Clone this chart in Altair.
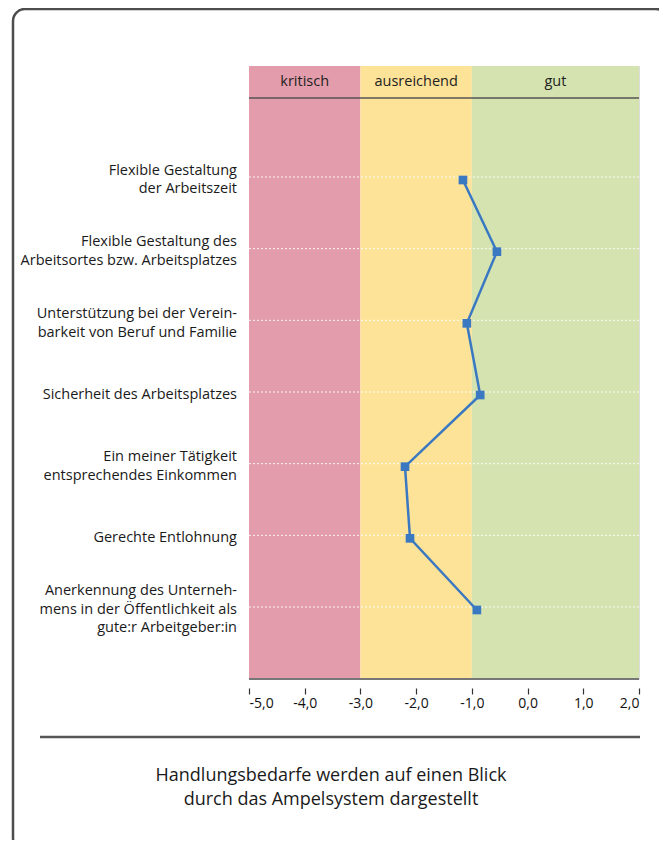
import altair as alt
import pandas as pd

# ---------------- data ----------------
labels = [
    "Flexible Gestaltung\nder Arbeitszeit",
    "Flexible Gestaltung des\nArbeitsortes bzw. Arbeitsplatzes",
    "Unterstützung bei der Verein-\nbarkeit von Beruf und Familie",
    "Sicherheit des Arbeitsplatzes",
    "Ein meiner Tätigkeit\nentsprechendes Einkommen",
    "Gerechte Entlohnung",
    "Anerkennung des Unterneh-\nmens in der Öffentlichkeit als\ngute:r Arbeitgeber:in",
]
values = [-1.16, -0.55, -1.09, -0.85, -2.20, -2.11, -0.91]
rows = [0, 1, 2, 3, 4, 5, 6]

zones = ["kritisch", "ausreichend", "gut"]
zone_start = [-5, -3, -1]
zone_end = [-3, -1, 2]
zone_colors = ["#E29CAB", "#FDE398", "#D4E3AF"]

ticks = [-5, -4, -3, -2, -1, 0, 1, 2]
footer = ["Handlungsbedarfe werden auf einen Blick", "durch das Ampelsystem dargestellt"]

# ---------------- layout ----------------
W, H = 390, 613
Y_DOMAIN = [-1.591, 6.963]
HEADER_LINE = -1.144
HEADER_TEXT = -1.367
FONT = "Open Sans"
LINE_H = 18.5
PX_PER_UNIT = H / (Y_DOMAIN[1] - Y_DOMAIN[0])

df = pd.DataFrame({"label": labels, "value": values, "row": rows})
zdf = pd.DataFrame({"zone": zones, "start": zone_start, "end": zone_end,
                    "mid": [(a + b) / 2 for a, b in zip(zone_start, zone_end)],
                    "hy": [HEADER_TEXT] * 3, "ly": [HEADER_LINE] * 3})
fdf = pd.DataFrame({"text": footer, "line": [0, 1]})

xscale = alt.Scale(domain=[-5, 2], nice=False, zero=False)
yscale = alt.Scale(domain=Y_DOMAIN, reverse=True, nice=False, zero=False)

xaxis = alt.Axis(values=ticks,
                 labelExpr="replace(replace(format(datum.value, '.1f'), '.', ','), '\u2212', '-')",
                 domain=False, grid=False, tickSize=6, offset=9, tickColor="#333333",
                 tickWidth=1.2, labelFontSize=14, labelColor="#111111", labelFont=FONT,
                 labelPadding=2, title=None)

frame = alt.Chart(fdf.head(1)).mark_rect(
    fillOpacity=0, stroke="#4d4d4d", strokeWidth=2.5, cornerRadius=12
).encode(x=alt.value(-236), x2=alt.value(419), y=alt.value(-57), y2=alt.value(784))

bands = alt.Chart(zdf).mark_rect().encode(
    x=alt.X("start:Q", scale=xscale, axis=xaxis),
    x2="end:Q",
    y=alt.value(0), y2=alt.value(H),
    color=alt.Color("zone:N", scale=alt.Scale(domain=zones, range=zone_colors), legend=None),
)

header_text = alt.Chart(zdf).mark_text(fontSize=14.5, font=FONT, color="#222222").encode(
    x=alt.X("mid:Q", scale=xscale),
    y=alt.Y("hy:Q", scale=yscale, axis=None),
    text="zone:N",
)

header_line = alt.Chart(zdf.head(1)).mark_rule(color="#555555", strokeWidth=1.5).encode(
    x=alt.value(0), x2=alt.value(W),
    y=alt.Y("ly:Q", scale=yscale, axis=None),
)

bottom_line = alt.Chart(zdf.head(1)).mark_rule(color="#777777", strokeWidth=2).encode(
    x=alt.value(0), x2=alt.value(W), y=alt.value(H),
)

grid = alt.Chart(df).mark_rule(color="white", strokeWidth=1, strokeDash=[2, 2], opacity=0.9,
                               yOffset=-3).encode(
    x=alt.value(0), x2=alt.value(W),
    y=alt.Y("row:Q", scale=yscale, axis=None),
)

line = alt.Chart(df).mark_line(color="#3A78C2", strokeWidth=2.5).encode(
    x=alt.X("value:Q", scale=xscale),
    y=alt.Y("row:Q", scale=yscale, axis=None),
    order="row:Q",
)

pts = alt.Chart(df).mark_point(shape="square", filled=True, size=75, color="#3A78C2", opacity=1).encode(
    x=alt.X("value:Q", scale=xscale),
    y=alt.Y("row:Q", scale=yscale, axis=None),
)

row_labels = alt.Chart(df).transform_calculate(
    ly=f"datum.row - (length(split(datum.label, '\\n')) - 1) * {LINE_H / 2} / {PX_PER_UNIT}"
).mark_text(align="right", baseline="middle", fontSize=14.5, font=FONT,
            color="#1a1a1a", lineBreak="\n", lineHeight=LINE_H).encode(
    x=alt.value(-12),
    y=alt.Y("ly:Q", scale=yscale, axis=None),
    text="label:N",
)

footer_rule = alt.Chart(fdf.head(1)).mark_rule(color="#555555", strokeWidth=2.5).encode(
    x=alt.value(-209), x2=alt.value(391), y=alt.value(671),
)

footer_text = alt.Chart(fdf).mark_text(fontSize=18, font=FONT, color="#1a1a1a").encode(
    x=alt.value(82),
    y=alt.Y("line:Q", scale=alt.Scale(domain=[0, 1], range=[710, 734]), axis=None),
    text="text:N",
)

chart = alt.layer(
    frame, bands, grid, header_line, bottom_line, header_text, line, pts, row_labels,
    footer_rule, footer_text,
).resolve_scale(y="independent").properties(
    width=W, height=H,
    autosize=alt.AutoSizeParams(type="none"),
    padding={"left": 241, "top": 58, "right": 20, "bottom": 161},
).configure_view(stroke=None).configure(background="white")

chart.save("out.html", embed_options={"renderer": "svg", "actions": False})
